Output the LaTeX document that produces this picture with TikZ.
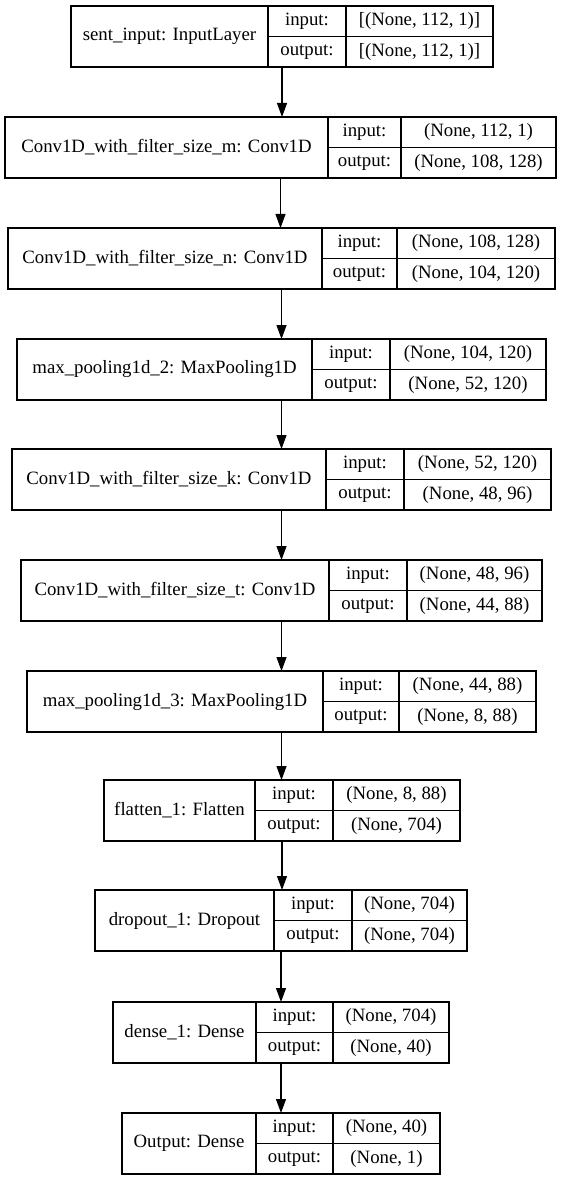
\documentclass[tikz,border=0pt]{standalone}
\usepackage{fontspec}
\setmainfont{Liberation Serif}
\usetikzlibrary{arrows.meta}

\tikzset{
  cell/.style={draw,line width=0.8pt,inner sep=0pt,outer sep=0pt,minimum height=45.75pt},
  flow/.style={line width=0.8pt,-{Triangle[length=10.5pt,width=7.5pt]}}
}

% one keras layer: name, top, left, 1st split, 2nd split, right, label, input, output
\newcommand{\kerasrow}[9]{%
  \node[cell,minimum width={(#6-#3)*0.75pt},anchor=north west] (#1) at (#3,#2) {};
  \draw[line width=0.8pt] (#4,#2) -- (#4,#2+61) (#5,#2) -- (#5,#2+61) (#4,#2+30.5) -- (#6,#2+30.5);
  \node (#1-name) at ({(#3+#4)/2},#2+30.5) {#7};
  \node (#1-inl)  at ({(#4+#5)/2},#2+15.25) {input:};
  \node (#1-outl) at ({(#4+#5)/2},#2+45.75) {output:};
  \node (#1-in)   at ({(#5+#6)/2},#2+15.25) {#8};
  \node (#1-out)  at ({(#5+#6)/2},#2+45.75) {#9};
}

\begin{document}
\begin{tikzpicture}[x=0.75pt,y=-0.75pt,font=\fontsize{14.1}{16}\selectfont]
  \useasboundingbox (0,0) rectangle (563,1180);
  \kerasrow{sent}{6}{71}{268}{346}{493}{sent\_input: InputLayer}{[(None, 112, 1)]}{[(None, 112, 1)]}
  \kerasrow{convm}{117}{5}{328}{401}{556}{Conv1D\_with\_filter\_size\_m: Conv1D}{(None, 112, 1)}{(None, 108, 128)}
  \kerasrow{convn}{228}{8}{322}{397}{555}{Conv1D\_with\_filter\_size\_n: Conv1D}{(None, 108, 128)}{(None, 104, 120)}
  \kerasrow{poola}{339}{17}{312}{390}{546}{max\_pooling1d\_2: MaxPooling1D}{(None, 104, 120)}{(None, 52, 120)}
  \kerasrow{convk}{449}{12}{326}{404}{551}{Conv1D\_with\_filter\_size\_k: Conv1D}{(None, 52, 120)}{(None, 48, 96)}
  \kerasrow{convt}{560}{21}{329}{407}{542}{Conv1D\_with\_filter\_size\_t: Conv1D}{(None, 48, 96)}{(None, 44, 88)}
  \kerasrow{poolb}{671}{27}{323}{399}{536}{max\_pooling1d\_3: MaxPooling1D}{(None, 44, 88)}{(None, 8, 88)}
  \kerasrow{flat}{780}{104}{255}{333}{460}{flatten\_1: Flatten}{(None, 8, 88)}{(None, 704)}
  \kerasrow{drop}{890}{95}{274}{352}{467}{dropout\_1: Dropout}{(None, 704)}{(None, 704)}
  \kerasrow{dense}{1002}{113}{256}{333}{449}{dense\_1: Dense}{(None, 704)}{(None, 40)}
  \kerasrow{outp}{1113}{122}{256}{333}{440}{Output: Dense}{(None, 40)}{(None, 1)}
  \foreach \a/\b in {sent/convm,convm/convn,convn/poola,poola/convk,convk/convt,convt/poolb,poolb/flat,flat/drop,drop/dense,dense/outp}
    \draw[flow] (\a.south) -- (\a.south |- \b.north);
\end{tikzpicture}
\end{document}
